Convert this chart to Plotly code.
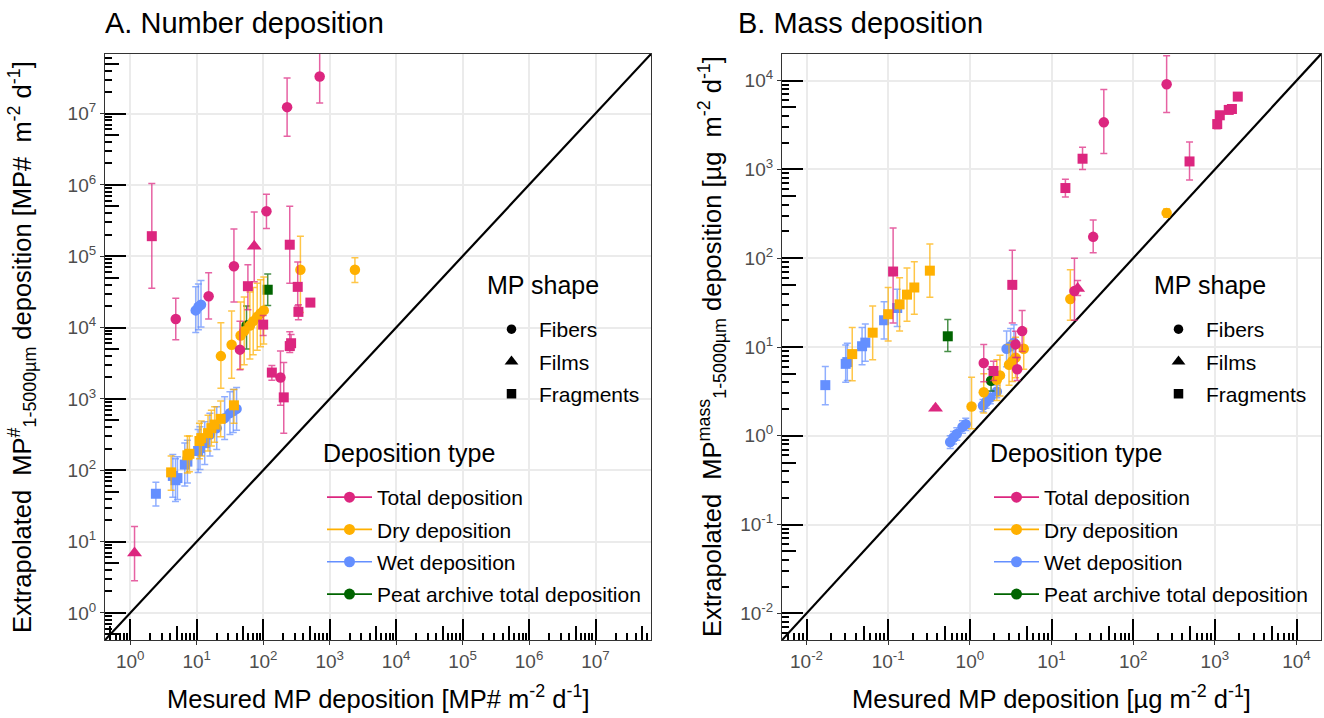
import plotly.graph_objects as go

# ---------------- colours ----------------
C_TOTAL = "#DC267F"
C_DRY = "#FFB000"
C_WET = "#648FFF"
C_PEAT = "#006400"

# =============== Panel A : number deposition [MP# m-2 d-1] ===============
# measured (x), extrapolated (y), lower / upper bound of extrapolation
A_total_fib_x = [708, 229, 112, 36.3, 15.1, 4.84, 44.7, 182]
A_total_fib_y = [3.31e7, 1.23e7, 4.27e5, 7.24e4, 2.75e4, 1.32e4, 4.90e3, 2.0e3]
A_total_fib_lo = [1.41e7, 4.79e6, 2.45e5, 2.29e4, 1.32e4, 6.76e3, 2.57e3, 813]
A_total_fib_hi = [7.76e7, 3.16e7, 7.41e5, 2.40e5, 5.89e4, 2.57e4, 1.23e4, 4.68e3]

A_total_film_x = [73.3, 1.16]
A_total_film_y = [1.38e5, 6.92]
A_total_film_lo = [4.37e4, 2.82]
A_total_film_hi = [4.17e5, 16.2]

A_total_frag_x = [2.11, 251, 58.9, 331, 513, 339, 100, 251, 263, 135, 204]
A_total_frag_y = [1.91e5, 1.45e5, 3.80e4, 3.72e4, 2.24e4, 1.66e4, 1.10e4, 5.50e3, 6.03e3, 2.34e3, 1.05e3]
A_total_frag_lo = [3.55e4, 4.17e4, 1.78e4, 2.0e4, 2.1e4, 1.29e4, 7.76e3, 4.47e3, 4.9e3, 1.82e3, 331]
A_total_frag_hi = [1.05e6, 5.01e5, 7.59e4, 8.32e4, 2.4e4, 2.09e4, 1.48e4, 8.71e3, 8.0e3, 2.95e3, 3.24e3]

A_dry_fib_x = [23.1, 33.5, 45.7, 51.8, 63.1, 70.8, 81.3, 91.2, 102, 363, 2400]
A_dry_fib_y = [3.98e3, 5.75e3, 7.76e3, 8.91e3, 1.07e4, 1.23e4, 1.41e4, 1.58e4, 1.74e4, 6.46e4, 6.46e4]
A_dry_fib_lo = [1.41e3, 1.95e3, 2.63e3, 3.02e3, 3.63e3, 4.17e3, 4.79e3, 5.37e3, 5.89e3, 1.62e4, 4.27e4]
A_dry_fib_hi = [1.17e4, 1.70e4, 2.29e4, 2.69e4, 3.16e4, 3.63e4, 4.17e4, 4.68e4, 5.13e4, 1.91e5, 9.55e4]

A_dry_frag_x = [4.12, 7.24, 7.76, 11.0, 11.7, 14.8, 16.6, 18.6, 22.9, 36.3]
A_dry_frag_y = [93.3, 162, 170, 257, 282, 331, 389, 437, 525, 813]
A_dry_frag_lo = [52.5, 91.2, 95.5, 145, 158, 186, 219, 246, 295, 457]
A_dry_frag_hi = [158, 302, 302, 457, 490, 589, 692, 776, 933, 1350]

A_wet_frag_x = [2.43, 4.37, 4.79, 5.13, 6.61, 7.24, 10.5, 11.2, 13.2]
A_wet_frag_y = [46.8, 83.2, 72.4, 77.6, 120, 132, 186, 204, 240]
A_wet_frag_lo = [31.6, 41.7, 36.3, 38.9, 60.3, 66, 93.3, 102, 120]
A_wet_frag_hi = [67.6, 166, 145, 155, 240, 263, 372, 407, 479]

A_wet_fib_x = [15.8, 20.0, 26.3, 31.6, 35.5, 39.8, 9.66, 10.6, 11.6]
A_wet_fib_y = [316, 389, 537, 631, 676, 724, 1.74e4, 1.95e4, 2.09e4]
A_wet_fib_lo = [158, 195, 269, 316, 339, 363, 8.51e3, 9.33e3, 1.02e4]
A_wet_fib_hi = [631, 776, 1070, 1260, 1350, 1450, 3.72e4, 4.07e4, 4.57e4]

A_peat_frag_x = [117]
A_peat_frag_y = [3.39e4]
A_peat_frag_lo = [2.04e4]
A_peat_frag_hi = [5.62e4]

A_peat_fib_x = [56.2]
A_peat_fib_y = [1.07e4]
A_peat_fib_lo = [5.0e3]
A_peat_fib_hi = [2.0e4]

# =============== Panel B : mass deposition [ug m-2 d-1] ===============
B_total_fib_x = [257, 43.7, 32.4, 19.1, 1.48, 3.80, 3.63, 4.37]
B_total_fib_y = [9.12e3, 3.39e3, 174, 42.7, 6.61, 5.62, 10.7, 15.1]
B_total_fib_lo = [4.37e3, 1.51e3, 115, 20.0, 4.07, 4.2, 7.6, 8.9]
B_total_fib_hi = [1.91e4, 7.94e3, 269, 100, 10.7, 7.6, 15, 25.7]

B_total_film_x = [0.380, 20.9]
B_total_film_y = [2.04, 45.7]
B_total_film_lo = [1.95, 38]
B_total_film_hi = [2.14, 56.2]

B_total_frag_x = [0.115, 3.31, 1.95, 14.8, 24.0, 490, 1070, 1150, 1480, 1620, 1910]
B_total_frag_y = [70.8, 50.1, 5.37, 617, 1.32e3, 1.23e3, 3.24e3, 4.07e3, 4.68e3, 4.79e3, 6.61e3]
B_total_frag_lo = [18.6, 18.6, 4.2, 490, 1.0e3, 759, 2.88e3, 3.7e3, 4.3e3, 4.4e3, 6.3e3]
B_total_frag_hi = [219, 123, 6.9, 776, 1.78e3, 2.04e3, 3.63e3, 4.5e3, 5.1e3, 5.2e3, 6.9e3]

B_dry_fib_x = [257, 17.0, 1.05, 1.48, 2.14, 2.34, 3.02, 3.31, 3.63, 4.57]
B_dry_fib_y = [324, 34.7, 2.14, 3.09, 4.27, 4.79, 6.31, 6.92, 7.59, 9.55]
B_dry_fib_lo = [290, 20.0, 1.20, 1.8, 2.5, 2.8, 3.7, 4.1, 4.5, 5.6]
B_dry_fib_hi = [360, 74.1, 4.57, 5.0, 7.2, 8.1, 10.7, 11.7, 12.9, 16.2]

B_dry_frag_x = [0.0363, 0.0646, 0.100, 0.138, 0.170, 0.209, 0.324]
B_dry_frag_y = [8.32, 14.5, 23.4, 30.2, 38.9, 46.8, 72.4]
B_dry_frag_lo = [4.17, 7.2, 11.7, 15.1, 19.5, 23.4, 36.3]
B_dry_frag_hi = [16.6, 29, 46.8, 60.3, 77.6, 91.2, 145]

B_wet_frag_x = [0.0170, 0.0302, 0.0316, 0.0479, 0.0525, 0.0891, 0.129]
B_wet_frag_y = [3.72, 6.46, 6.76, 10.2, 11.2, 20.0, 27.5]
B_wet_frag_lo = [2.24, 4.0, 4.2, 6.3, 6.9, 12.3, 17.0]
B_wet_frag_hi = [6.03, 10.5, 11.0, 16.6, 18.2, 32.4, 44.7]

B_wet_fib_x = [0.575, 0.631, 0.692, 0.813, 0.891, 1.45, 1.58, 1.78, 2.14, 2.82, 3.16, 3.47]
B_wet_fib_y = [0.851, 0.955, 1.05, 1.26, 1.35, 2.19, 2.40, 2.69, 3.16, 9.55, 10.2, 11.2]
B_wet_fib_lo = [0.72, 0.81, 0.89, 1.07, 1.15, 1.86, 2.04, 2.29, 2.69, 6.0, 6.5, 7.1]
B_wet_fib_hi = [1.0, 1.12, 1.23, 1.48, 1.58, 2.57, 2.82, 3.16, 3.72, 15.1, 16.2, 17.8]

B_peat_frag_x = [0.537]
B_peat_frag_y = [13.2]
B_peat_frag_lo = [8.91]
B_peat_frag_hi = [20.4]

B_peat_fib_x = [1.82]
B_peat_fib_y = [4.17]
B_peat_fib_lo = [3.2]
B_peat_fib_hi = [5.6]

ONE_TO_ONE = [1e-4, 1e9]

A_tickvals = [1, 10, 100, 1e3, 1e4, 1e5, 1e6, 1e7]
A_ticktext = ["10<sup>0</sup>", "10<sup>1</sup>", "10<sup>2</sup>", "10<sup>3</sup>",
              "10<sup>4</sup>", "10<sup>5</sup>", "10<sup>6</sup>", "10<sup>7</sup>"]
B_tickvals = [0.01, 0.1, 1, 10, 100, 1e3, 1e4]
B_ticktext = ["10<sup>-2</sup>", "10<sup>-1</sup>", "10<sup>0</sup>", "10<sup>1</sup>",
              "10<sup>2</sup>", "10<sup>3</sup>", "10<sup>4</sup>"]

DEP_TYPES = ["Total deposition", "Dry deposition", "Wet deposition", "Peat archive total deposition"]
DEP_COLORS = [C_TOTAL, C_DRY, C_WET, C_PEAT]
SHAPES = ["Fibers", "Films", "Fragments"]
SYMBOLS = ["circle", "triangle-up", "square"]

FONT = "Liberation Sans, Arial, sans-serif"


def rgba(hexcol, a):
    h = hexcol.lstrip("#")
    return "rgba(%d,%d,%d,%.2f)" % (int(h[0:2], 16), int(h[2:4], 16), int(h[4:6], 16), a)


fig = go.Figure()

SIZE = {"circle": 10.5, "square": 10, "triangle-up": 13}


def add_group(x, y, lo, hi, color, symbol, xa, ya):
    fig.add_trace(go.Scatter(
        x=x, y=y, mode="markers", xaxis=xa, yaxis=ya, showlegend=False,
        marker=dict(color=color, symbol=symbol, size=SIZE[symbol], line=dict(width=0)),
        error_y=dict(type="data", symmetric=False,
                     array=[h - v for h, v in zip(hi, y)],
                     arrayminus=[v - l for v, l in zip(y, lo)],
                     color=rgba(color, 0.72), thickness=1.5, width=3.5),
        hoverinfo="x+y"))


# 1:1 lines
for xa, ya in (("x", "y"), ("x2", "y2")):
    fig.add_trace(go.Scatter(x=ONE_TO_ONE, y=ONE_TO_ONE, mode="lines", xaxis=xa, yaxis=ya,
                             line=dict(color="black", width=2.2), showlegend=False, hoverinfo="skip"))

groups_A = [
    (A_wet_frag_x, A_wet_frag_y, A_wet_frag_lo, A_wet_frag_hi, C_WET, "square"),
    (A_wet_fib_x, A_wet_fib_y, A_wet_fib_lo, A_wet_fib_hi, C_WET, "circle"),
    (A_peat_fib_x, A_peat_fib_y, A_peat_fib_lo, A_peat_fib_hi, C_PEAT, "circle"),
    (A_peat_frag_x, A_peat_frag_y, A_peat_frag_lo, A_peat_frag_hi, C_PEAT, "square"),
    (A_dry_frag_x, A_dry_frag_y, A_dry_frag_lo, A_dry_frag_hi, C_DRY, "square"),
    (A_dry_fib_x, A_dry_fib_y, A_dry_fib_lo, A_dry_fib_hi, C_DRY, "circle"),
    (A_total_fib_x, A_total_fib_y, A_total_fib_lo, A_total_fib_hi, C_TOTAL, "circle"),
    (A_total_film_x, A_total_film_y, A_total_film_lo, A_total_film_hi, C_TOTAL, "triangle-up"),
    (A_total_frag_x, A_total_frag_y, A_total_frag_lo, A_total_frag_hi, C_TOTAL, "square"),
]
groups_B = [
    (B_wet_frag_x, B_wet_frag_y, B_wet_frag_lo, B_wet_frag_hi, C_WET, "square"),
    (B_wet_fib_x, B_wet_fib_y, B_wet_fib_lo, B_wet_fib_hi, C_WET, "circle"),
    (B_peat_fib_x, B_peat_fib_y, B_peat_fib_lo, B_peat_fib_hi, C_PEAT, "circle"),
    (B_peat_frag_x, B_peat_frag_y, B_peat_frag_lo, B_peat_frag_hi, C_PEAT, "square"),
    (B_dry_frag_x, B_dry_frag_y, B_dry_frag_lo, B_dry_frag_hi, C_DRY, "square"),
    (B_dry_fib_x, B_dry_fib_y, B_dry_fib_lo, B_dry_fib_hi, C_DRY, "circle"),
    (B_total_fib_x, B_total_fib_y, B_total_fib_lo, B_total_fib_hi, C_TOTAL, "circle"),
    (B_total_film_x, B_total_film_y, B_total_film_lo, B_total_film_hi, C_TOTAL, "triangle-up"),
    (B_total_frag_x, B_total_frag_y, B_total_frag_lo, B_total_frag_hi, C_TOTAL, "square"),
]
for g in groups_A:
    add_group(*g, "x", "y")
for g in groups_B:
    add_group(*g, "x2", "y2")

# placeholder traces on overlay axes (log tick marks)
for xa, ya in (("x3", "y3"), ("x4", "y4")):
    fig.add_trace(go.Scatter(x=[None], y=[None], xaxis=xa, yaxis=ya, showlegend=False, hoverinfo="skip"))

# legends
for leg_shape, leg_dep in (("legend", "legend2"), ("legend3", "legend4")):
    for name, sym in zip(SHAPES, SYMBOLS):
        fig.add_trace(go.Scatter(
            x=[None], y=[None], mode="markers", name=name, legend=leg_shape, legendgroup=leg_shape + name,
            marker=dict(color="black", symbol=sym, size=12 if sym == "triangle-up" else 9.5)))
    for name, col in zip(DEP_TYPES, DEP_COLORS):
        fig.add_trace(go.Scatter(
            x=[None], y=[None], mode="lines+markers", name=name, legend=leg_dep, legendgroup=leg_dep + name,
            line=dict(color=col, width=1.7), marker=dict(color=col, symbol="circle", size=11)))

W, H = 1324, 718
top, bottom = 54, 640
A_left, A_right = 105, 651
B_left, B_right = 782, 1321
ydom = [1 - bottom / H, 1 - top / H]
A_dom = [A_left / W, A_right / W]
B_dom = [B_left / W, B_right / W]
A_range = [-0.38, 7.835]
B_range = [-2.3, 4.3]


def minor_vals(lo_exp, hi_exp, mults):
    return [m * 10.0 ** e for e in range(lo_exp, hi_exp + 1) for m in mults]


A_mid = minor_vals(-1, 7, [5])
A_small = minor_vals(-1, 7, [2, 3, 4, 6, 7, 8, 9])
B_mid = minor_vals(-3, 4, [5])
B_small = minor_vals(-3, 4, [2, 3, 4, 6, 7, 8, 9])

tickfont = dict(family=FONT, size=19, color="#4D4D4D")


def main_axis(dom, rng, tv, tt, mid, anchor):
    return dict(type="log", domain=dom, range=rng, anchor=anchor,
                tickmode="array", tickvals=tv, ticktext=tt, ticks="outside", ticklen=4,
                tickwidth=1.1, tickcolor="#333333", tickfont=tickfont,
                showgrid=True, gridcolor="#EBEBEB", gridwidth=2,
                showline=True, linecolor="#333333", linewidth=1.1, mirror=True, zeroline=False,
                minor=dict(tickmode="array", tickvals=mid, ticks="inside", ticklen=14,
                           tickwidth=1.5, tickcolor="black", showgrid=False))


def over_axis(dom, rng, tv, small, anchor, over):
    return dict(type="log", domain=dom, range=rng, anchor=anchor, overlaying=over,
                tickmode="array", tickvals=tv, ticks="inside", ticklen=21, tickwidth=1.7,
                tickcolor="black", showticklabels=False, showgrid=False, showline=False,
                zeroline=False,
                minor=dict(tickmode="array", tickvals=small, ticks="inside", ticklen=7,
                           tickwidth=1.5, tickcolor="black", showgrid=False))


leg_common = dict(bgcolor="rgba(0,0,0,0)", borderwidth=0, font=dict(family=FONT, size=21, color="black"),
                  xanchor="left", yanchor="top", tracegroupgap=2, traceorder="grouped",
                  itemwidth=45, itemclick=False, itemdoubleclick=False)

fig.update_layout(
    width=W, height=H, margin=dict(l=0, r=0, t=0, b=0),
    paper_bgcolor="white", plot_bgcolor="white",
    font=dict(family=FONT, color="black"),
    xaxis=main_axis(A_dom, A_range, A_tickvals, A_ticktext, A_mid, "y"),
    yaxis=main_axis(ydom, A_range, A_tickvals, A_ticktext, A_mid, "x"),
    xaxis2=main_axis(B_dom, B_range, B_tickvals, B_ticktext, B_mid, "y2"),
    yaxis2=main_axis(ydom, B_range, B_tickvals, B_ticktext, B_mid, "x2"),
    xaxis3=over_axis(A_dom, A_range, A_tickvals, A_small, "y3", "x"),
    yaxis3=over_axis(ydom, A_range, A_tickvals, A_small, "x3", "y"),
    xaxis4=over_axis(B_dom, B_range, B_tickvals, B_small, "y4", "x2"),
    yaxis4=over_axis(ydom, B_range, B_tickvals, B_small, "x4", "y2"),
    legend=dict(x=484 / W, y=1 - 309 / H, **leg_common),
    legend2=dict(x=322 / W, y=1 - 477 / H, **leg_common),
    legend3=dict(x=1151 / W, y=1 - 309 / H, **leg_common),
    legend4=dict(x=989 / W, y=1 - 477 / H, **leg_common),
    showlegend=True,
)

ann = []


def text(x, y, s, size, xanchor="left", yanchor="middle", angle=0, color="black"):
    ann.append(dict(xref="paper", yref="paper", x=x / W, y=1 - y / H, text=s, showarrow=False,
                    xanchor=xanchor, yanchor=yanchor, textangle=angle,
                    font=dict(family=FONT, size=size, color=color)))


text(103, 23, "A. Number deposition", 29)
text(736, 23, "B. Mass deposition", 29)
text(485, 285, "MP shape", 25)
text(1152, 285, "MP shape", 25)
text(321, 453, "Deposition type", 25)
text(988, 453, "Deposition type", 25)
text(378, 697, "Mesured MP deposition [MP# m<sup>-2</sup> d<sup>-1</sup>]", 25.5, xanchor="center")
text(1051, 697, "Mesured MP deposition [µg m<sup>-2</sup> d<sup>-1</sup>]", 25.5, xanchor="center")
text(22, 347, "Extrapolated  MP<sup>#</sup><sub>1-5000µm</sub> deposition [MP#  m<sup>-2</sup> d<sup>-1</sup>]",
     25.5, xanchor="center", angle=-90)
text(712, 347, "Extrapolated  MP<sup>mass</sup><sub>1-5000µm</sub> deposition [µg  m<sup>-2</sup> d<sup>-1</sup>]",
     25.5, xanchor="center", angle=-90)
fig.update_layout(annotations=ann)

fig.write_html("out.html")
